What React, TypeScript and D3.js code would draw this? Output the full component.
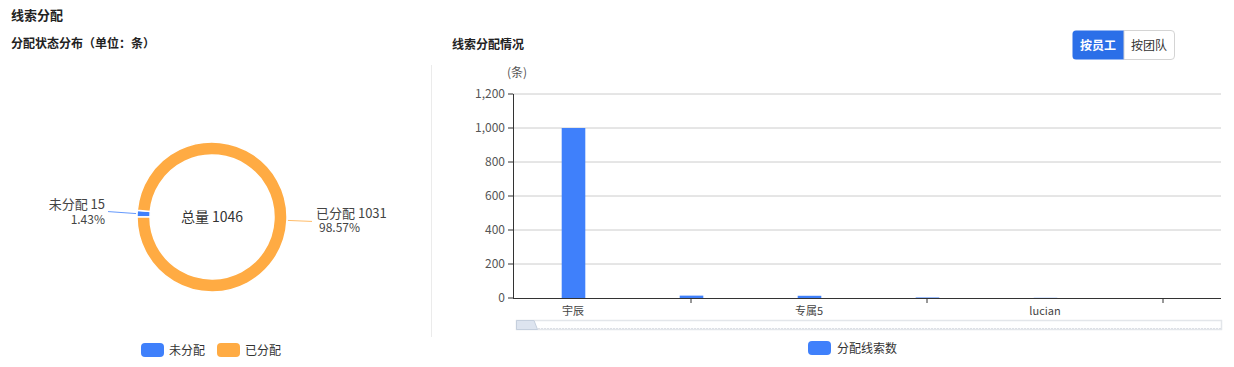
import { useMemo } from "react";
import * as d3 from "d3";

// donut data
const statusNames = ["未分配", "已分配"];
const statusValues = [15, 1031];
const statusColors = ["#3f80fb", "#ffab43"];

// bar data (labels shown every other category)
const staffNames = ["宇辰", "员工二", "专属5", "员工四", "lucian", "员工六"];
const staffValues = [1000, 14, 13, 3, 1, 0];
const yTicks = [0, 200, 400, 600, 800, 1000, 1200];

const FONT = "'Noto Sans CJK SC', 'Noto Sans', sans-serif";

const Donut = () => {
    const cx = 212;
    const cy = 217;
    const total = d3.sum(statusValues);

    const arcs = useMemo(() => {
        const pie = d3
            .pie<number>()
            .sort(null)
            .startAngle(-Math.PI / 2)
            .endAngle((3 * Math.PI) / 2);
        return pie(statusValues);
    }, []);

    const arc = d3.arc<d3.PieArcDatum<number>>().innerRadius(62).outerRadius(75);

    return (
        <g>
            <g transform={`translate(${cx},${cy})`}>
                {arcs.map((a, i) => (
                    <path key={i} d={arc(a) || ""} fill={statusColors[i]} stroke="#fff" strokeWidth={1.5} />
                ))}
                {arcs.map((a, i) => {
                    const mid = (a.startAngle + a.endAngle) / 2;
                    const x0 = Math.sin(mid) * 76;
                    const y0 = -Math.cos(mid) * 76;
                    const left = x0 < 0;
                    const x1 = left ? -104 : 100;
                    const pct = ((statusValues[i] / total) * 100).toFixed(2) + "%";
                    return (
                        <g key={"l" + i}>
                            <path
                                d={`M${x0},${y0}L${x1},${y0 - (left ? 2 : -1)}`}
                                stroke={statusColors[i]}
                                fill="none"
                                opacity={0.8}
                            />
                            <text
                                x={left ? x1 - 3 : x1 + 4}
                                y={left ? y0 - 5 : y0 - 2}
                                textAnchor={left ? "end" : "start"}
                                fontSize={13}
                                fill="#444"
                            >
                                {statusNames[i]} {statusValues[i]}
                            </text>
                            <text
                                x={left ? x1 - 3 : x1 + 7}
                                y={left ? y0 + 10 : y0 + 12}
                                textAnchor={left ? "end" : "start"}
                                fontSize={12}
                                fill="#444"
                            >
                                {pct}
                            </text>
                        </g>
                    );
                })}
                <text textAnchor="middle" y={5} fontSize={14} fill="#333">
                    总量 {total}
                </text>
            </g>
            {statusNames.map((n, i) => (
                <g key={n} transform={`translate(${141 + i * 76},343)`}>
                    <rect width={23} height={14} rx={4} fill={statusColors[i]} />
                    <text x={28} y={11.5} fontSize={12} fill="#333">
                        {n}
                    </text>
                </g>
            ))}
        </g>
    );
};

const Bars = () => {
    const left = 513;
    const right = 1221;
    const top = 94;
    const bottom = 298;

    const x = useMemo(
        () => d3.scaleBand<string>().domain(staffNames).range([left, right]).paddingInner(0.8).paddingOuter(0.4),
        []
    );
    const y = useMemo(() => d3.scaleLinear().domain([0, 1200]).range([bottom, top]), []);
    const fmt = d3.format(",");
    const barColor = "#3f80fb";

    return (
        <g>
            <text x={517} y={77} textAnchor="middle" fontSize={12} fill="#555">
                (条)
            </text>
            {yTicks.map((t) => (
                <g key={t}>
                    {t > 0 && <line x1={left} x2={right} y1={y(t)} y2={y(t)} stroke="#ccc" />}
                    <line x1={left - 5} x2={left} y1={y(t)} y2={y(t)} stroke="#333" />
                    <text x={left - 8} y={y(t) + 4} textAnchor="end" fontSize={12} fill="#555">
                        {fmt(t)}
                    </text>
                </g>
            ))}
            <line x1={left + 0.5} x2={left + 0.5} y1={top} y2={bottom} stroke="#333" />
            {staffNames.map((n, i) => {
                const h = bottom - y(staffValues[i]);
                return (
                    <rect
                        key={n}
                        x={(x(n) || 0) + 1.5}
                        y={y(staffValues[i])}
                        width={x.bandwidth()}
                        height={h}
                        fill={barColor}
                    />
                );
            })}
            <line x1={left} x2={right} y1={bottom + 0.5} y2={bottom + 0.5} stroke="#333" />
            {staffNames.map((n, i) => {
                const cxp = (x(n) || 0) + x.bandwidth() / 2 + 1;
                return i % 2 === 0 ? (
                    <text key={n} x={cxp} y={315} textAnchor="middle" fontSize={11} fill="#444">
                        {n}
                    </text>
                ) : (
                    <line key={n} x1={cxp} x2={cxp} y1={bottom} y2={bottom + 5} stroke="#333" />
                );
            })}
            {/* data zoom slider */}
            <rect x={516.5} y={320.5} width={705} height={9} fill="#fff" stroke="#e3e6ea" strokeWidth={1.5} />
            <line x1={517} x2={1221} y1={328.5} y2={328.5} stroke="#dde0e6" strokeDasharray="2 1" />
            <path d="M516.5,320.5 L534,320.5 L537.5,329.5 L516.5,329.5 Z" fill="#dde4ef" stroke="#c5cfdd" />
            <g transform="translate(808,341)">
                <rect width={23} height={14} rx={4} fill={barColor} />
                <text x={29} y={11.5} fontSize={12} fill="#333">
                    分配线索数
                </text>
            </g>
        </g>
    );
};

export default function App() {
    return (
        <svg
            width={1234}
            height={367}
            style={{ position: "absolute", left: 0, top: 0, fontFamily: FONT, background: "#fff" }}
        >
            <text x={11} y={20} fontSize={13} fontWeight="bold" fill="#222">
                线索分配
            </text>
            <text x={11} y={48} fontSize={12} fontWeight="bold" fill="#222">
                分配状态分布（单位：条）
            </text>
            <text x={452} y={49} fontSize={12} fontWeight="bold" fill="#222">
                线索分配情况
            </text>
            <line x1={431.5} x2={431.5} y1={65} y2={337} stroke="#ebebeb" />
            <g>
                <path
                    d="M1124,30.5 L1076,30.5 Q1072.5,30.5 1072.5,34 L1072.5,56 Q1072.5,59.5 1076,59.5 L1124,59.5 Z"
                    fill="#2b6fe8"
                />
                <path
                    d="M1124,30.5 L1171,30.5 Q1174.5,30.5 1174.5,34 L1174.5,56 Q1174.5,59.5 1171,59.5 L1124,59.5 Z"
                    fill="#fff"
                    stroke="#d4d4d4"
                />
                <text x={1098} y={50} textAnchor="middle" fontSize={12} fontWeight="bold" fill="#fff">
                    按员工
                </text>
                <text x={1149} y={50} textAnchor="middle" fontSize={12} fill="#333">
                    按团队
                </text>
            </g>
            <Donut />
            <Bars />
        </svg>
    );
}
